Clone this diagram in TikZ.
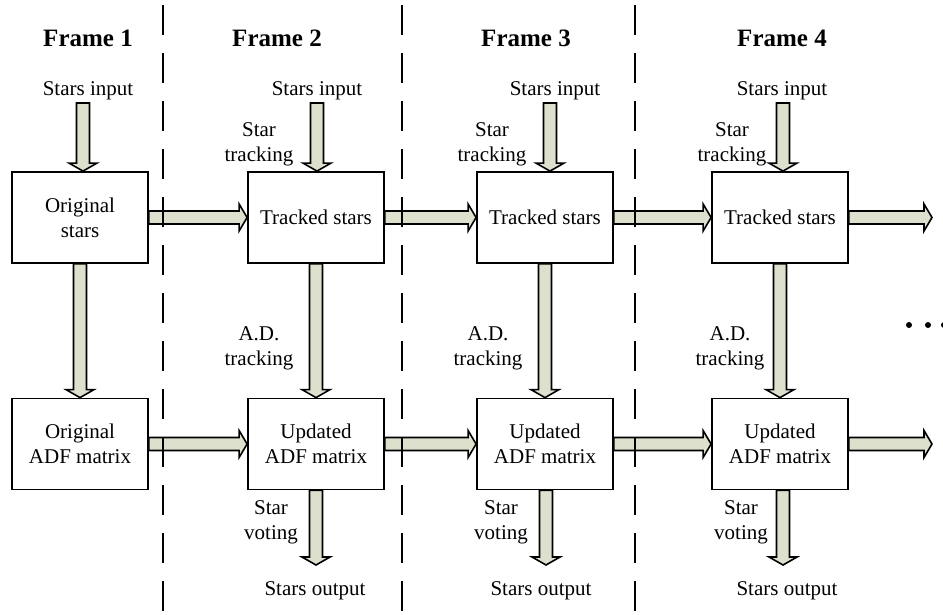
\documentclass[tikz,border=0pt]{standalone}
\usepackage{fontspec}
\setmainfont{Liberation Serif}
\usepackage{tikz}
\usetikzlibrary{calc}
\definecolor{arrowfill}{RGB}{221,224,204}

\tikzset{
  block/.style={draw=black, line width=1.8pt, minimum width=136pt, minimum height=91pt, align=center, inner sep=0pt, font=\fontsize{21}{25}\selectfont},
  txt/.style={align=center, inner sep=0pt, font=\fontsize{21}{25}\selectfont},
  title/.style={inner sep=0pt, font=\fontsize{25}{30}\selectfont\bfseries},
  frameline/.style={line width=1.8pt, dash pattern=on 30pt off 18pt},
  fat/.style={fill=arrowfill, draw=black, line width=1.6pt, line join=miter},
}

% fat arrows, #1 = start, #2 = tip
\newcommand{\fatdown}[2]{\path [fat] let \p1=(#1), \p2=(#2) in
  (\x1-6.5pt,\y1) -- (\x1-6.5pt,\y2+8pt) -- (\x1-14pt,\y2+8pt) -- (\x1,\y2)
  -- (\x1+14pt,\y2+8pt) -- (\x1+6.5pt,\y2+8pt) -- (\x1+6.5pt,\y1) -- cycle;}
\newcommand{\fatright}[2]{\path [fat] let \p1=(#1), \p2=(#2) in
  (\x1,\y1+6.5pt) -- (\x2-8pt,\y1+6.5pt) -- (\x2-8pt,\y1+13.5pt) -- (\x2,\y1)
  -- (\x2-8pt,\y1-13.5pt) -- (\x2-8pt,\y1-6.5pt) -- (\x1,\y1-6.5pt) -- cycle;}

\begin{document}
\begin{tikzpicture}[x=1pt,y=-1pt]
\useasboundingbox (0,0) rectangle (943,614);

% frame titles
\node [title] (f1) at (88,38) {Frame 1};
\node [title] (f2) at (277,38) {Frame 2};
\node [title] (f3) at (526,38) {Frame 3};
\node [title] (f4) at (782,38) {Frame 4};

% boxes
\node [block] (t1) at (80,217.5) {Original\\stars};
\node [block] (t2) at (316,217.5) {Tracked stars};
\node [block] (t3) at (545,217.5) {Tracked stars};
\node [block] (t4) at (780,217.5) {Tracked stars};
\node [block] (u1) at (80,444) {Original\\ADF matrix};
\node [block] (u2) at (316,444) {Updated\\ADF matrix};
\node [block] (u3) at (545,444) {Updated\\ADF matrix};
\node [block] (u4) at (780,444) {Updated\\ADF matrix};

% labels
\node [txt] (in1) at (88,91) {Stars input};
\node [txt] (in2) at (317,91) {Stars input};
\node [txt] (in3) at (555,91) {Stars input};
\node [txt] (in4) at (782,91) {Stars input};
\node [txt] (st2) at (259,144) {Star\\tracking};
\node [txt] (st3) at (492,144) {Star\\tracking};
\node [txt] (st4) at (732,144) {Star\\tracking};
\node [txt] (ad2) at (259,348) {A.D.\\tracking};
\node [txt] (ad3) at (488,348) {A.D.\\tracking};
\node [txt] (ad4) at (730,348) {A.D.\\tracking};
\node [txt] (sv2) at (271,522) {Star\\voting};
\node [txt] (sv3) at (501,522) {Star\\voting};
\node [txt] (sv4) at (741,522) {Star\\voting};
\node [txt] (out2) at (315,591) {Stars output};
\node [txt] (out3) at (541,591) {Stars output};
\node [txt] (out4) at (787,591) {Stars output};

% free ends
\coordinate (a1) at (83,103);
\coordinate (a2) at (317,103);
\coordinate (a3) at (550,103);
\coordinate (a4) at (783,103);
\coordinate (o2) at (316,565);
\coordinate (o3) at (546,565);
\coordinate (o4) at (783,565);
\coordinate (e4) at (932,217.5);
\coordinate (g4) at (932,444);

% stars input
\fatdown{a1}{a1 |- t1.north}
\fatdown{a2}{a2 |- t2.north}
\fatdown{a3}{a3 |- t3.north}
\fatdown{a4}{a4 |- t4.north}

% tracking down
\fatdown{t1.south}{u1.north}
\fatdown{t2.south}{u2.north}
\fatdown{t3.south}{u3.north}
\fatdown{t4.south}{u4.north}

% stars output
\fatdown{o2 |- u2.south}{o2}
\fatdown{o3 |- u3.south}{o3}
\fatdown{o4 |- u4.south}{o4}

% frame to frame
\fatright{t1.east}{t1.east -| t2.west}
\fatright{t2.east}{t2.east -| t3.west}
\fatright{t3.east}{t3.east -| t4.west}
\fatright{t4.east}{e4}
\fatright{u1.east}{u1.east -| u2.west}
\fatright{u2.east}{u2.east -| u3.west}
\fatright{u3.east}{u3.east -| u4.west}
\fatright{u4.east}{g4}

% dots
\fill (909,325) circle (3);
\fill (928,325) circle (3);
\fill (944,325) circle (3);

% frame borders
\draw [frameline] (163,5) -- (163,614);
\draw [frameline] (402,5) -- (402,614);
\draw [frameline] (635,5) -- (635,614);

\end{tikzpicture}
\end{document}
